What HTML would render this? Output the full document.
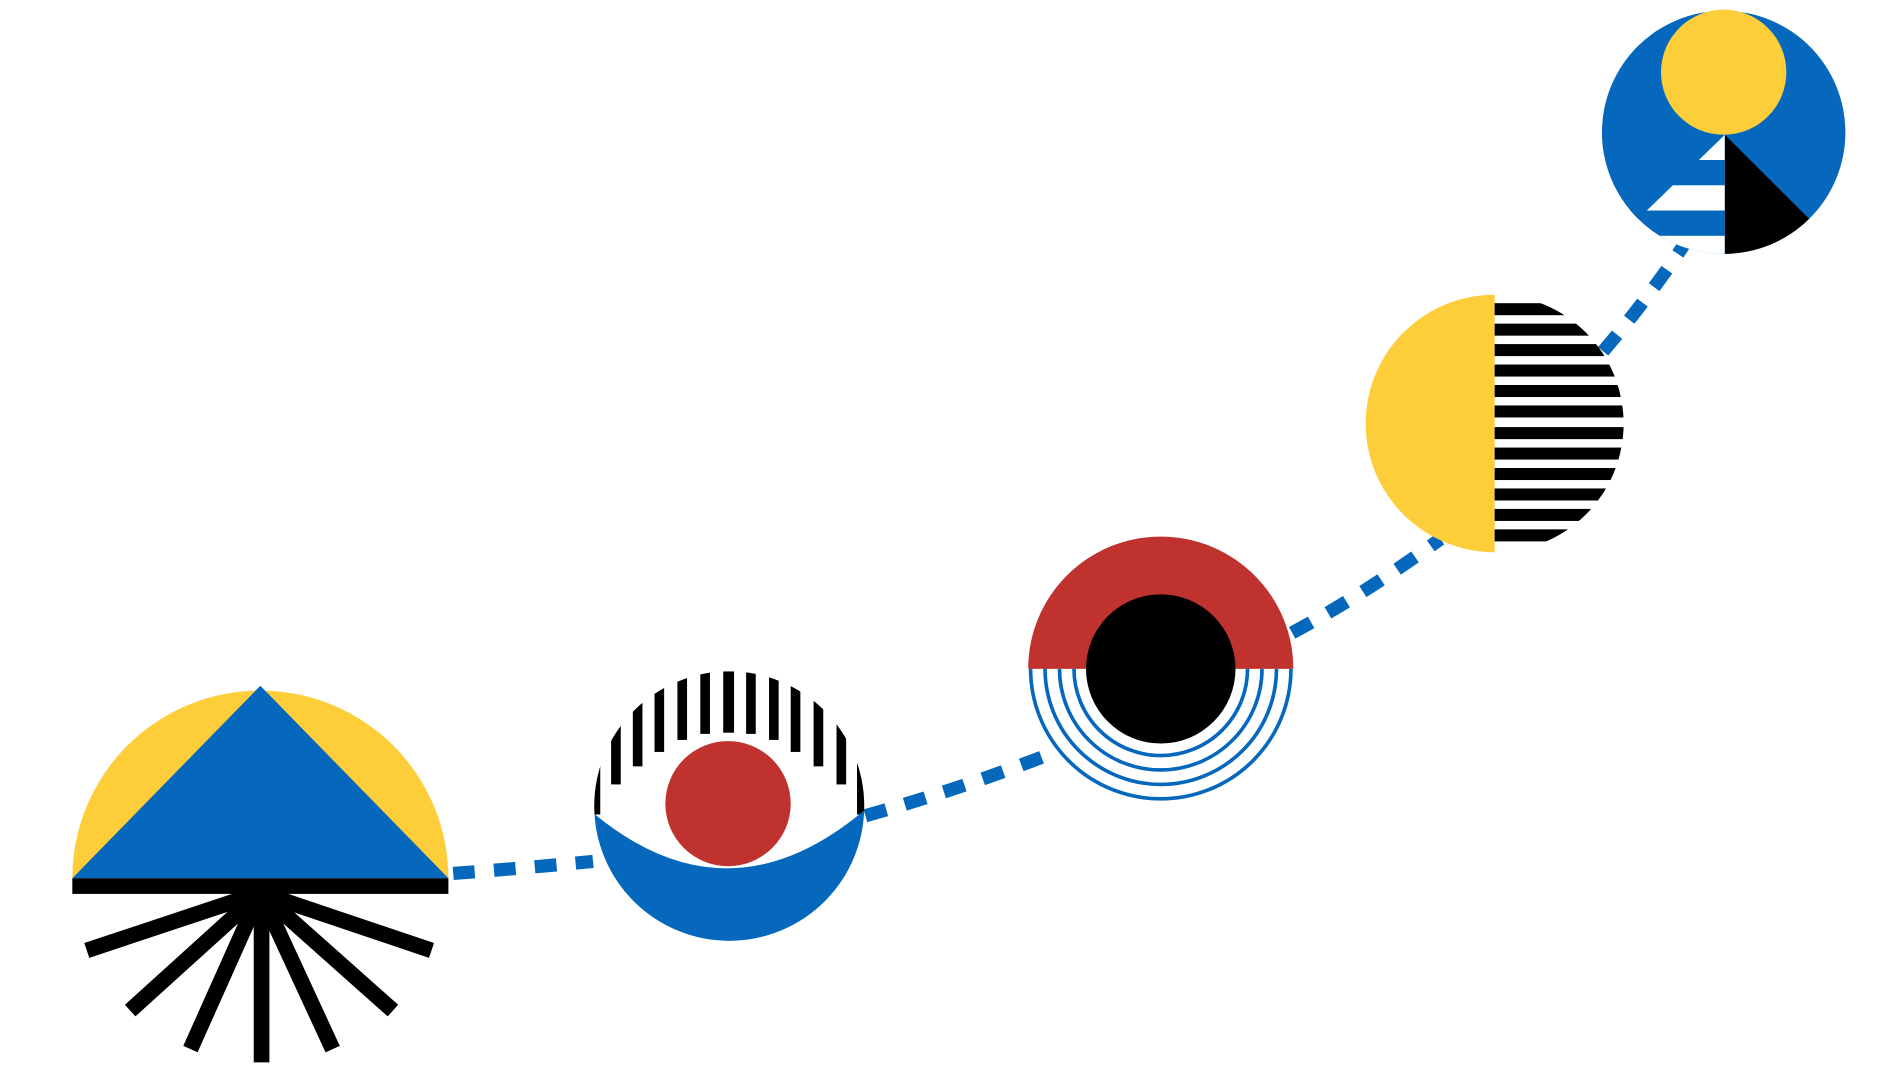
<!DOCTYPE html>
<html><head><meta charset="utf-8"><style>html,body{margin:0;padding:0;background:#fff}svg{display:block}</style></head>
<body>
<svg width="1890" height="1090" viewBox="0 0 1568 906" preserveAspectRatio="none" xmlns="http://www.w3.org/2000/svg">
<defs>
<clipPath id="c2"><circle cx="605" cy="670" r="112"/></clipPath>
<clipPath id="c4"><circle cx="1240" cy="352" r="107"/></clipPath>
<clipPath id="c5"><circle cx="1430" cy="110" r="101"/></clipPath>
<clipPath id="lower3"><rect x="840" y="556" width="250" height="130"/></clipPath>
</defs>
<g fill="none" stroke="#0568BD" stroke-width="11" stroke-dasharray="18 16">
<path d="M376 726 Q430 722 492 716"/>
<path d="M718 678 Q800 655 878 624"/>
<path d="M1072 526 Q1130 495 1195 448"/>
<path d="M1330 292 Q1370 245 1402 196"/>
</g>
<path d="M60 730 A156 156 0 0 1 372 730 Z" fill="#FDCD3A"/>
<polygon points="60,730 216,570 372,730" fill="#0568BD"/>
<rect x="60" y="730" width="312" height="13" fill="#000"/>
<g stroke="#000" stroke-width="13">
<line x1="216" y1="742" x2="72" y2="790"/>
<line x1="216" y1="742" x2="108" y2="840"/>
<line x1="216" y1="742" x2="158" y2="872"/>
<line x1="217" y1="742" x2="217" y2="883"/>
<line x1="216" y1="742" x2="276" y2="872"/>
<line x1="216" y1="742" x2="326" y2="840"/>
<line x1="216" y1="742" x2="358" y2="790"/>
</g>
<g clip-path="url(#c2)">
<g fill="#000">
<rect x="490" y="557" width="8" height="120"/>
<rect x="507" y="557" width="8" height="95"/>
<rect x="525" y="557" width="8" height="80"/>
<rect x="543" y="557" width="8" height="68"/>
<rect x="562" y="557" width="8" height="58"/>
<rect x="581" y="557" width="8" height="53"/>
<rect x="600" y="557" width="9" height="52"/>
<rect x="619" y="557" width="8" height="53"/>
<rect x="638" y="557" width="8" height="58"/>
<rect x="656" y="557" width="8" height="68"/>
<rect x="675" y="557" width="8" height="80"/>
<rect x="694" y="557" width="8" height="95"/>
<rect x="711" y="557" width="8" height="120"/>
</g>
<path d="M480 700 Q520 660 560 630 Q604 600 650 630 Q690 660 730 700 Z" fill="#fff"/>
<path d="M480 665 Q604 780 730 662 L730 790 L480 790 Z" fill="#0568BD"/>
</g>
<circle cx="604" cy="668" r="52" fill="#C0322E"/>
<path d="M853 556 A110 110 0 0 1 1073 556 Z" fill="#C0322E"/>
<g clip-path="url(#lower3)" fill="none" stroke="#0568BD" stroke-width="3">
<circle cx="963" cy="556" r="108"/>
<circle cx="963" cy="556" r="96"/>
<circle cx="963" cy="556" r="84"/>
<circle cx="963" cy="556" r="72"/>
</g>
<circle cx="963" cy="556" r="62" fill="#000"/>
<g clip-path="url(#c4)">
<rect x="1130" y="240" width="110" height="225" fill="#FDCD3A"/>
<g fill="#000">
<rect x="1240" y="252" width="110" height="10"/>
<rect x="1240" y="269" width="110" height="10"/>
<rect x="1240" y="286" width="110" height="10"/>
<rect x="1240" y="303" width="110" height="10"/>
<rect x="1240" y="320" width="110" height="10"/>
<rect x="1240" y="337" width="110" height="10"/>
<rect x="1240" y="355" width="110" height="10"/>
<rect x="1240" y="372" width="110" height="10"/>
<rect x="1240" y="389" width="110" height="10"/>
<rect x="1240" y="406" width="110" height="10"/>
<rect x="1240" y="423" width="110" height="10"/>
<rect x="1240" y="440" width="110" height="10"/>
</g>
</g>
<g clip-path="url(#c5)">
<rect x="1325" y="5" width="210" height="210" fill="#0568BD"/>
<polygon points="1431,112 1431,220 1320,220" fill="#fff"/>
<rect x="1340" y="133" width="91" height="21" fill="#0568BD"/>
<rect x="1340" y="175" width="91" height="21" fill="#0568BD"/>
<polygon points="1431,112 1540,221 1431,221" fill="#000"/>
</g>
<circle cx="1430" cy="60" r="52" fill="#FDCD3A"/>
</svg>
</body></html>
